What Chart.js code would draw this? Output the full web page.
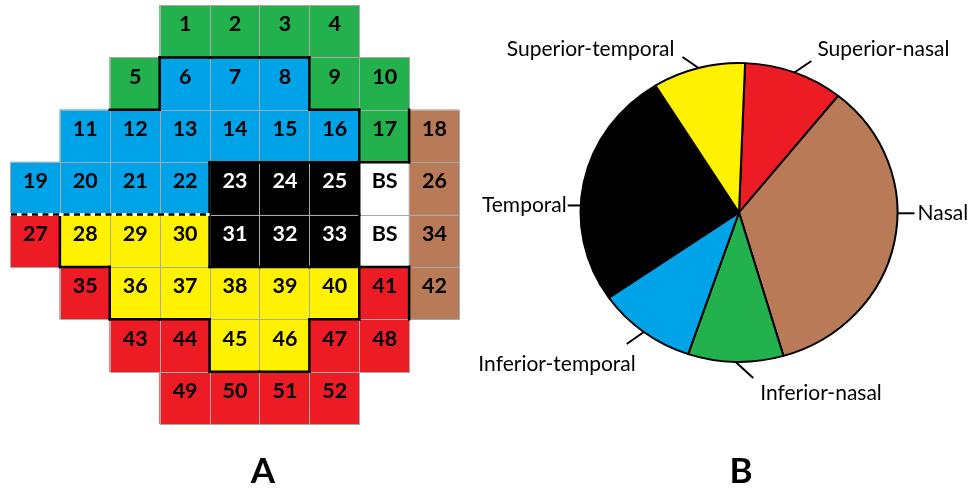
<!DOCTYPE html>
<html>
<head>
<meta charset="utf-8">
<script src="https://cdn.jsdelivr.net/npm/chart.js@4.4.1/dist/chart.umd.min.js"></script>
<style>
  html, body { margin: 0; padding: 0; background: #fff; }
  #wrap { position: relative; width: 970px; height: 497px; overflow: hidden; }
  .panel { position: absolute; top: 0; height: 497px; }
</style>
</head>
<body>
<div id="wrap">
  <div class="panel" style="left:0;width:470px"><canvas id="gridChart"></canvas></div>
  <div class="panel" style="left:470px;width:500px"><canvas id="pieChart"></canvas></div>
</div>
<script>
// ---- Visual field test points (24-2 layout), one row per array ----
const gridColumns = ['0', '1', '2', '3', '4', '5', '6', '7', '8'];

const pointLabels = [
  [null, null, null, '1', '2', '3', '4', null, null],
  [null, null, '5', '6', '7', '8', '9', '10', null],
  [null, '11', '12', '13', '14', '15', '16', '17', '18'],
  ['19', '20', '21', '22', '23', '24', '25', 'BS', '26'],
  ['27', '28', '29', '30', '31', '32', '33', 'BS', '34'],
  [null, '35', '36', '37', '38', '39', '40', '41', '42'],
  [null, null, '43', '44', '45', '46', '47', '48', null],
  [null, null, null, '49', '50', '51', '52', null, null]
];

// Optic disc sector each test point maps to
const pointSectors = [
  [null, null, null, 'IN', 'IN', 'IN', 'IN', null, null],
  [null, null, 'IN', 'IT', 'IT', 'IT', 'IN', 'IN', null],
  [null, 'IT', 'IT', 'IT', 'IT', 'IT', 'IT', 'IN', 'N'],
  ['IT', 'IT', 'IT', 'IT', 'T', 'T', 'T', 'BS', 'N'],
  ['SN', 'ST', 'ST', 'ST', 'T', 'T', 'T', 'BS', 'N'],
  [null, 'SN', 'ST', 'ST', 'ST', 'ST', 'ST', 'SN', 'N'],
  [null, null, 'SN', 'SN', 'ST', 'ST', 'SN', 'SN', null],
  [null, null, null, 'SN', 'SN', 'SN', 'SN', null, null]
];

// ---- Optic disc sectors (degrees), clockwise ----
const sectorCodes   = ['SN', 'N', 'IN', 'IT', 'T', 'ST'];
const sectorNames   = ['Superior-nasal', 'Nasal', 'Inferior-nasal', 'Inferior-temporal', 'Temporal', 'Superior-temporal'];
const sectorDegrees = [36.5, 125, 35, 36.5, 93, 34];

const sectorColor = {
  SN: '#ED1C24', N: '#B97A57', IN: '#22B14C', IT: '#00A2E8',
  T: '#000000', ST: '#FFF200', BS: '#FFFFFF'
};

// ---------------- Panel A: test point grid ----------------
const gridDatasets = pointLabels.map((row, r) => ({
  data: row.map(lbl => (lbl === null ? null : [r, r + 1])),
  backgroundColor: pointSectors[r].map(s => (s ? sectorColor[s] : 'rgba(0,0,0,0)')),
  borderWidth: 0,
  grouped: false,
  barPercentage: 1,
  categoryPercentage: 1
}));

function boundaryKind(a, b) {
  if (!a || !b || a === b) return null;
  const pair = [a, b].sort().join('-');
  if (pair === 'BS-N') return null;
  if (pair === 'IT-SN' || pair === 'IT-ST') return 'dash';
  return 'solid';
}

const gridDecor = {
  id: 'gridDecor',
  afterDatasetsDraw(chart) {
    const { ctx, scales: { x, y } } = chart;
    const cw = x.width / gridColumns.length;
    const cell = (r, c) => {
      const cx = x.getPixelForValue(c);
      return { l: cx - cw / 2, r: cx + cw / 2, t: y.getPixelForValue(r), b: y.getPixelForValue(r + 1) };
    };
    const nRows = pointLabels.length, nCols = gridColumns.length;
    ctx.save();
    // thin cell outlines
    ctx.strokeStyle = '#a9a9a9';
    ctx.lineWidth = 1;
    for (let r = 0; r < nRows; r++) {
      for (let c = 0; c < nCols; c++) {
        if (pointLabels[r][c] === null) continue;
        const k = cell(r, c);
        ctx.strokeRect(Math.round(k.l) + 0.5, Math.round(k.t) + 0.5,
          Math.round(k.r) - Math.round(k.l), Math.round(k.b) - Math.round(k.t));
      }
    }
    // sector boundaries
    const segs = [];
    for (let r = 0; r < nRows; r++) {
      for (let c = 0; c < nCols; c++) {
        const s = pointSectors[r][c];
        if (!s) continue;
        const k = cell(r, c);
        if (c + 1 < nCols) {
          const kind = boundaryKind(s, pointSectors[r][c + 1]);
          if (kind) segs.push({ kind, x1: k.r, y1: k.t, x2: k.r, y2: k.b });
        }
        if (r + 1 < nRows) {
          const kind = boundaryKind(s, pointSectors[r + 1][c]);
          if (kind) segs.push({ kind, x1: k.l, y1: k.b, x2: k.r, y2: k.b });
        }
      }
    }
    ctx.lineCap = 'square';
    segs.filter(s => s.kind === 'solid').forEach(s => {
      ctx.strokeStyle = '#000';
      ctx.lineWidth = 2.5;
      ctx.beginPath(); ctx.moveTo(s.x1, s.y1); ctx.lineTo(s.x2, s.y2); ctx.stroke();
    });
    ctx.lineCap = 'butt';
    segs.filter(s => s.kind === 'dash').forEach(s => {
      ctx.setLineDash([]);
      ctx.strokeStyle = '#fff';
      ctx.lineWidth = 3;
      ctx.beginPath(); ctx.moveTo(s.x1, s.y1); ctx.lineTo(s.x2, s.y2); ctx.stroke();
    });
    ctx.setLineDash([6, 4.5]);
    const dashes = segs.filter(s => s.kind === 'dash');
    if (dashes.length) {
      const x0 = Math.min(...dashes.map(s => s.x1));
      const x1 = Math.max(...dashes.map(s => s.x2));
      ctx.strokeStyle = '#000';
      ctx.lineWidth = 2.5;
      ctx.beginPath(); ctx.moveTo(x0 + 1, dashes[0].y1); ctx.lineTo(x1, dashes[0].y1); ctx.stroke();
    }
    ctx.setLineDash([]);
    // point numbers
    ctx.font = 'bold 21.5px Lato';
    ctx.textAlign = 'center';
    ctx.textBaseline = 'middle';
    for (let r = 0; r < nRows; r++) {
      for (let c = 0; c < nCols; c++) {
        const lbl = pointLabels[r][c];
        if (lbl === null) continue;
        const k = cell(r, c);
        ctx.fillStyle = pointSectors[r][c] === 'T' ? '#fff' : '#000';
        ctx.fillText(lbl, (k.l + k.r) / 2 + 0.5, k.t + (k.b - k.t) * 0.37);
      }
    }
    ctx.restore();
  }
};

const panelLetter = (letter, cx, baseline) => ({
  id: 'panelLetter',
  afterDraw(chart) {
    const ctx = chart.ctx;
    ctx.save();
    ctx.font = 'bold 35px Lato';
    ctx.fillStyle = '#000';
    ctx.textAlign = 'center';
    ctx.textBaseline = 'alphabetic';
    ctx.fillText(letter, cx, baseline);
    ctx.restore();
  }
});

new Chart(document.getElementById('gridChart'), {
  type: 'bar',
  data: { labels: gridColumns, datasets: gridDatasets },
  options: {
    responsive: true,
    maintainAspectRatio: false,
    animation: false,
    events: [],
    layout: { padding: { left: 10, right: 11, top: 5, bottom: 73 } },
    scales: {
      x: { display: false },
      y: { display: false, min: 0, max: pointLabels.length, reverse: true }
    },
    plugins: { legend: { display: false }, tooltip: { enabled: false } }
  },
  plugins: [gridDecor, panelLetter('A', 263, 483)]
});

// ---------------- Panel B: sector pie ----------------
const pieSquash = 0.943; // vertical scale of the disc

// leader line start: 'mid' = middle of the slice, a number = angle in degrees (0 = 3 o'clock)
// line: vector from the rim; text: offset from line end; align: text alignment
const pieLabelLayout = [
  { at: 'mid', line: [17, -11.5], text: [6, -12], align: 'left' },
  { at: 0.3, line: [17, 0], text: [3, 0], align: 'left' },
  { at: 'mid', line: [17.5, 16], text: [7, 15], align: 'left' },
  { at: 'mid', line: [-17, 12], text: [9, 20], align: 'right' },
  { at: 182.7, line: [-13, 0], text: [-1, 0], align: 'right' },
  { at: 'mid', line: [-16, -11], text: [-8, -8], align: 'right' }
];

const pieShape = {
  id: 'pieShape',
  beforeDatasetsDraw(chart) {
    const arc = chart.getDatasetMeta(0).data[0];
    const ctx = chart.ctx;
    ctx.save();
    ctx.translate(arc.x, arc.y);
    ctx.scale(1, pieSquash);
    ctx.translate(-arc.x, -arc.y);
  },
  afterDatasetsDraw(chart) {
    chart.ctx.restore();
  }
};

const pieLabels = {
  id: 'pieLabels',
  afterDraw(chart) {
    const ctx = chart.ctx;
    const arcs = chart.getDatasetMeta(0).data;
    ctx.save();
    ctx.font = '21px Lato';
    ctx.fillStyle = '#000';
    ctx.strokeStyle = '#000';
    ctx.lineWidth = 2;
    ctx.textBaseline = 'middle';
    arcs.forEach((a, i) => {
      const L = pieLabelLayout[i];
      const ang = L.at === 'mid' ? (a.startAngle + a.endAngle) / 2 : L.at * Math.PI / 180;
      const R = a.outerRadius;
      const px = a.x + R * Math.cos(ang);
      const py = a.y + R * Math.sin(ang) * pieSquash;
      const ex = px + L.line[0], ey = py + L.line[1];
      ctx.beginPath(); ctx.moveTo(px, py); ctx.lineTo(ex, ey); ctx.stroke();
      ctx.textAlign = L.align;
      ctx.fillText(chart.data.labels[i], ex + L.text[0], ey + L.text[1]);
    });
    ctx.restore();
  }
};

new Chart(document.getElementById('pieChart'), {
  type: 'pie',
  data: {
    labels: sectorNames,
    datasets: [{
      data: sectorDegrees,
      backgroundColor: sectorCodes.map(c => sectorColor[c]),
      borderColor: '#000',
      borderWidth: 2
    }]
  },
  options: {
    responsive: true,
    maintainAspectRatio: false,
    animation: false,
    events: [],
    rotation: 2.2,
    layout: { padding: { left: 109.5, right: 71.5, top: 53, bottom: 125 } },
    plugins: { legend: { display: false }, tooltip: { enabled: false } }
  },
  plugins: [pieShape, pieLabels, panelLetter('B', 271, 483)]
});
</script>
</body>
</html>
